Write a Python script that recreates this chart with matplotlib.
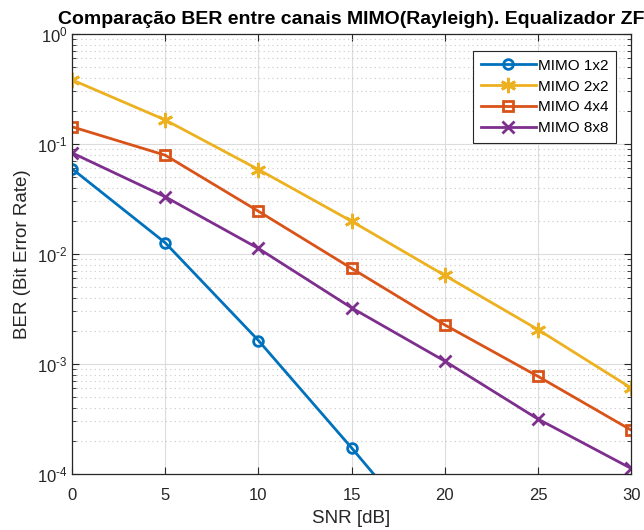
import numpy as np
import matplotlib
matplotlib.use('Agg')
import matplotlib.pyplot as plt
from matplotlib.ticker import LogLocator, NullFormatter, FuncFormatter

plt.rcParams['font.family'] = ['Liberation Sans', 'DejaVu Sans']
plt.rcParams['mathtext.fontset'] = 'custom'
plt.rcParams['mathtext.rm'] = 'Liberation Sans'
plt.rcParams['mathtext.it'] = 'Liberation Sans:italic'
plt.rcParams['mathtext.bf'] = 'Liberation Sans:bold'

# SNR points and BER
snr = [0, 5, 10, 15, 20, 25, 30]
ber_1x2 = [0.0593, 0.0126, 0.00163, 0.000172, 1.7e-05, np.nan, np.nan]
ber_2x2 = [0.382, 0.165, 0.0585, 0.0198, 0.00637, 0.00205, 0.000603]
ber_4x4 = [0.143, 0.0789, 0.0244, 0.00738, 0.00226, 0.00077, 0.00025]
ber_8x8 = [0.0828, 0.033, 0.0112, 0.00323, 0.00106, 0.000315, 0.000112]

labels = ['MIMO 1x2', 'MIMO 2x2', 'MIMO 4x4', 'MIMO 8x8']
colors = ['#0072BD', '#EDB120', '#D95319', '#7E2F8E']
asterisk = (6, 2, 0)
markers = ['o', asterisk, 's', 'x']
msizes = [7, 11, 6.5, 9]

fig = plt.figure(figsize=(6.44, 5.30), dpi=100)
ax = fig.add_axes([0.112, 0.106, 0.868, 0.830])

series = [ber_1x2, ber_2x2, ber_4x4, ber_8x8]
for y, lab, c, m, ms in zip(series, labels, colors, markers, msizes):
    ax.semilogy(snr, y, color=c, linewidth=2, marker=m, markersize=ms,
                markerfacecolor='none', markeredgewidth=2, label=lab)

ax.set_xlim(0, 30)
ax.set_ylim(1e-4, 1)
ax.set_xticks(snr)
ax.yaxis.set_major_locator(LogLocator(base=10, numticks=10))
ax.yaxis.set_major_formatter(FuncFormatter(
    lambda v, p: r'$10^{\text{-}%d}$' % round(-np.log10(v)) if v < 0.99 else r'$10^{0}$'))
ax.yaxis.set_minor_locator(LogLocator(base=10, subs=np.arange(2, 10), numticks=20))
ax.yaxis.set_minor_formatter(NullFormatter())

ax.grid(True, which='major', color='#dcdcdc', linewidth=0.8)
ax.grid(True, which='minor', axis='y', color='#c8c8c8', linestyle=(0, (1, 3)), linewidth=0.8)
ax.set_axisbelow(True)

ax.tick_params(which='both', direction='in', top=True, right=True, colors='#262626', labelsize=12)
ax.tick_params(axis='x', pad=10)
ax.tick_params(which='major', length=5)
ax.tick_params(which='minor', length=3)
for s in ax.spines.values():
    s.set_color('#262626')
    s.set_linewidth(0.9)

ax.set_xlabel('SNR [dB]', fontsize=13.5, color='#262626', labelpad=5.5)
ax.set_ylabel('BER (Bit Error Rate)', fontsize=13.5, color='#262626', labelpad=4)
ax.set_title('Comparação BER entre canais MIMO(Rayleigh). Equalizador ZF',
             fontsize=14, fontweight='bold', color='black', pad=7)

leg = ax.legend(loc='upper right', fontsize=11, handlelength=3.6, handletextpad=0.15,
                labelspacing=0.45, borderpad=0.5, borderaxespad=0, framealpha=1,
                fancybox=False, edgecolor='#262626',
                bbox_to_anchor=(0.973, 0.961))
leg.get_frame().set_linewidth(0.8)

fig.savefig('out.png', dpi=100)
